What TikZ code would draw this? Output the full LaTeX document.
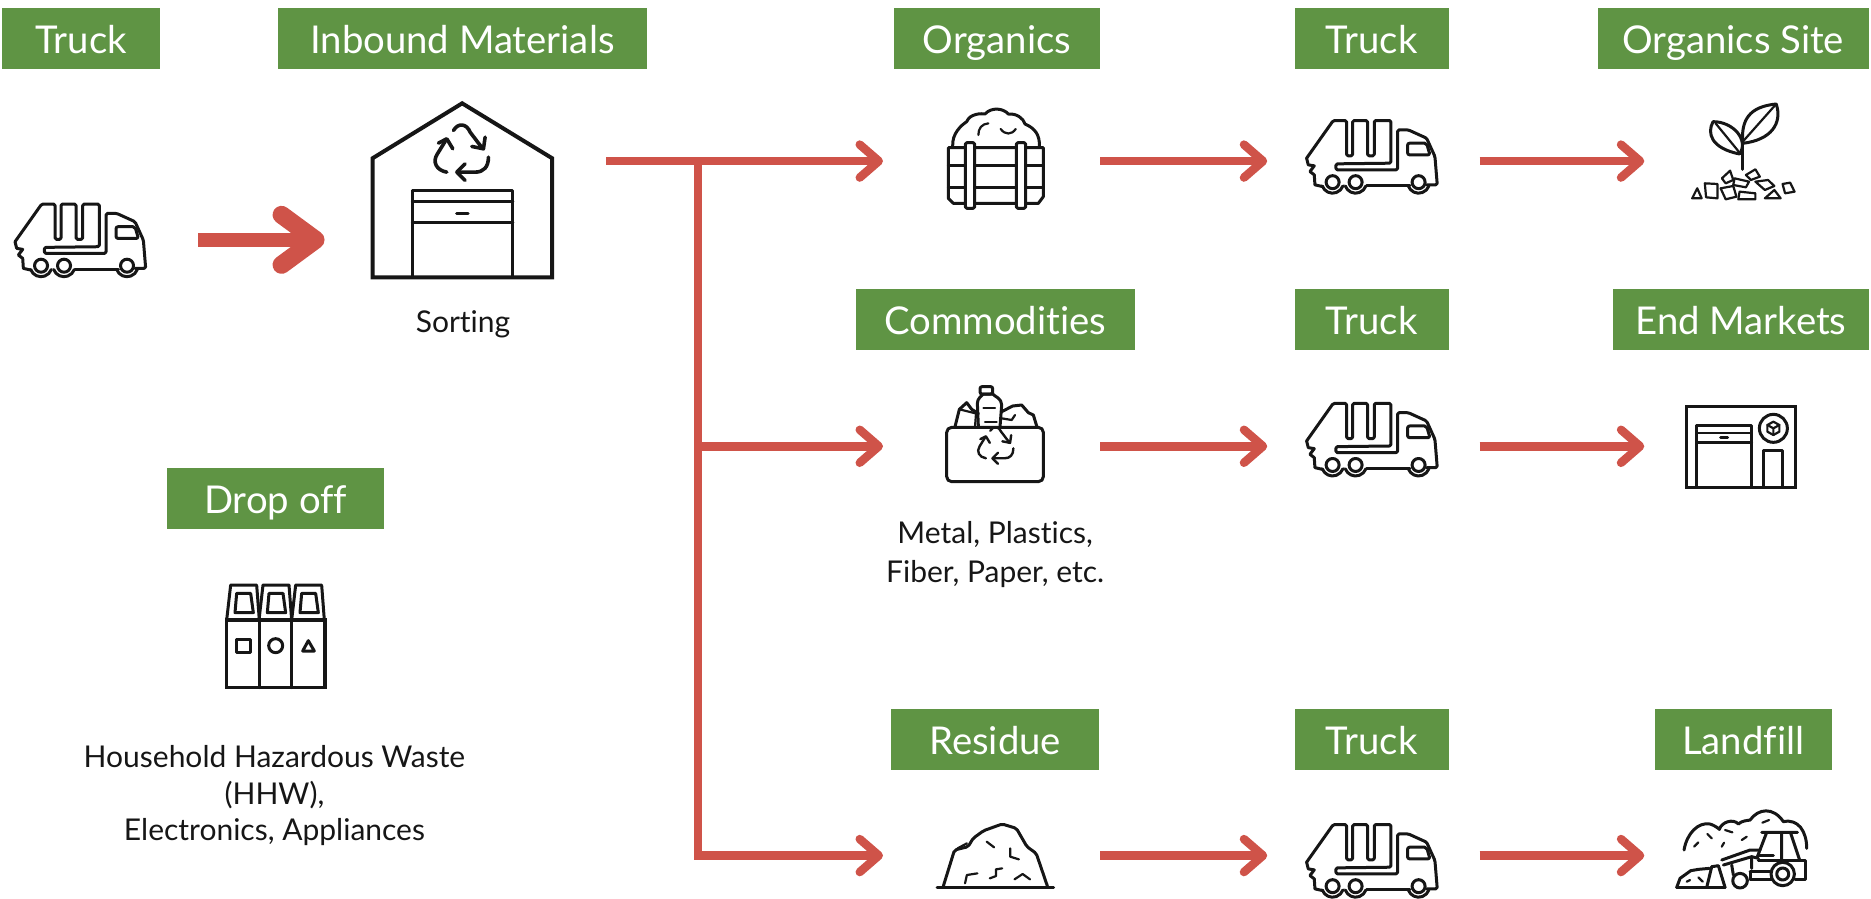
\documentclass[tikz,border=0pt]{standalone}
\usepackage{fontspec}
\setmainfont{Lato}[Ligatures=CommonOff]
\usetikzlibrary{arrows.meta}
\definecolor{boxgreen}{HTML}{5F9444}
\definecolor{flowred}{HTML}{CF5349}
\definecolor{ink}{HTML}{161616}
\tikzset{
  gbox/.style={fill=boxgreen,text=white,inner sep=0pt,minimum height=61pt,text height=28.6pt,text depth=0pt,minimum width=#1*1.1932pt,font=\fontsize{38.3}{40}\selectfont},
  hit/.style={inner sep=0pt,outer sep=0pt,minimum height=10pt,minimum width=#1*1.1932pt},
  caption/.style={inner sep=0pt,align=center,text=ink,font=\fontsize{30}{#1}\selectfont},
  flow/.style={draw=flowred,line width=8.5pt,-{Straight Barb[length=19pt,width=33pt,line width=8.5pt,round]}},
  bigflow/.style={draw=flowred,line width=14.6pt,-{Straight Barb[length=34pt,width=50pt,line width=18pt,round]}},
  zs/.style n args={4}{shift={(#1/1.1932,#2/1.1932)},x=#3pt,y=-#4pt},
  ic/.style={draw=ink,line width=3pt,line join=round,line cap=round},
  ict/.style={draw=ink,line width=2.2pt,line join=round,line cap=round},
  recyc/.pic={
    \begin{scope}[x=.3333pt,y=-.3333pt,shift={(-125,-95)},draw=ink,line width=#1,line cap=round,line join=round]
      \draw (100,30) .. controls (115,5) and (140,10) .. (150,35) -- (188,85);
      \draw (155,78) -- (190,85) -- (195,50);
      \draw (205,110) .. controls (205,140) and (190,155) .. (165,155) -- (110,155);
      \draw (135,130) -- (110,155) -- (135,180);
      \draw (80,155) .. controls (50,150) and (35,125) .. (52,100) -- (78,58);
      \draw (55,68) -- (80,55) -- (98,85);
    \end{scope}
  },
  truck/.pic={
    \begin{scope}[x=.3333pt,y=-.3333pt,shift={(-45,-42)}]
      \draw[ic,rounded corners=1.5pt] (45,155) -- (125,42) -- (165,42) -- (165,148) -- (183,148) -- (183,42) -- (228,42) -- (228,148) -- (248,148) -- (248,42) -- (298,42) -- (298,170) -- (133,172) -- (133,190) -- (318,190) -- (318,70) -- (350,70) -- (405,95) -- (430,150) -- (437,235) -- (405,235);
      \draw[ic] (225,237) -- (355,237);
      \draw[ic] (45,155) -- (50,175) -- (68,178) -- (55,195) -- (68,205) -- (70,235) -- (92,240);
      \draw[ic,rounded corners=2pt] (348,110) -- (405,110) -- (415,145) -- (348,145) -- cycle;
      \foreach \c in {123,192,381}{
        \draw[ic] (\c,227) circle[radius=6.5pt];
        \draw[ic] (\c,227) ++(200:11pt) arc[start angle=200,end angle=340,radius=11pt];
      }
    \end{scope}
  }
}
\begin{document}
\begin{tikzpicture}[x=1.1932pt,y=-1.1932pt]
\useasboundingbox (0,0) rectangle (1568,753.4);

% label boxes
\node[gbox=132] (lTruckA) at (68,32.5) {Truck};
\node[gbox=309] (lInbound) at (387.5,32.5) {Inbound Materials};
\node[gbox=173] (lOrganics) at (835.5,32.5) {Organics};
\node[gbox=129] (lTruckB) at (1149.5,32.5) {Truck};
\node[gbox=227] (lSite) at (1452.5,32.5) {Organics Site};
\node[gbox=234] (lComm) at (834,268) {Commodities};
\node[gbox=129] (lTruckC) at (1149.5,268) {Truck};
\node[gbox=214] (lEnd) at (1459,268) {End Markets};
\node[gbox=182] (lDrop) at (231,418) {Drop off};
\node[gbox=174] (lRes) at (834,620) {Residue};
\node[gbox=129] (lTruckD) at (1149.5,620) {Truck};
\node[gbox=148] (lLand) at (1461,620) {Landfill};

% captions
\node[caption=30] (cSort) at (388,272) {Sorting};
\node[caption=39] (cMetal) at (834,465) {Metal, Plastics,\\Fiber, Paper, etc.};
\node[caption=36.4] (cHaz) at (230,667) {Household Hazardous Waste\\(HHW),\\Electronics, Appliances};

% connection anchors around the icons
\node[hit=196] (aTruckA) at (68,201) {};
\node[hit=236] (aSort) at (390,201) {};
\node[hit=236] (aSortOut) at (390,135) {};
\node[hit=182] (aOrg) at (831,135) {};
\node[hit=178] (aTruckB) at (1151,135) {};
\node[hit=164] (aPlant) at (1460,135) {};
\node[hit=182] (aComm) at (831,374) {};
\node[hit=178] (aTruckC) at (1151,374) {};
\node[hit=164] (aMarket) at (1460,374) {};
\node[hit=182] (aRes) at (831,717) {};
\node[hit=178] (aTruckD) at (1151,717) {};
\node[hit=164] (aFill) at (1460,717) {};
\coordinate (jTop) at (585,135);

% connectors
\draw[bigflow] (aTruckA.east) -- (aSort.west);
\draw[flow] (aSortOut.east) -- (aOrg.west);
\draw[flow] (jTop) |- (aRes.west);
\draw[flow] (aComm.west -| jTop) -- (aComm.west);
\draw[flow] (aOrg.east) -- (aTruckB.west);
\draw[flow] (aTruckB.east) -- (aPlant.west);
\draw[flow] (aComm.east) -- (aTruckC.west);
\draw[flow] (aTruckC.east) -- (aMarket.west);
\draw[flow] (aRes.east) -- (aTruckD.west);
\draw[flow] (aTruckD.east) -- (aFill.west);

% trucks
\pic at (12.6,171) {truck};
\pic at (1095,101) {truck};
\pic at (1095,338) {truck};
\pic at (1095,691) {truck};

% warehouse
\begin{scope}[zs={0}{0}{.4209}{.3333}]
  \draw[ic,line width=4pt,line join=miter] (885,475) -- (1098,310) -- (1312,475) -- (1312,832) -- (885,832) -- cycle;
  \draw[ic,line width=3.2pt] (980,832) -- (980,572) -- (1218,572) -- (1218,832);
  \draw[ic,line width=3.2pt] (980,605) -- (1218,605) (980,668) -- (1218,668);
  \draw[ic] (1085,640) -- (1112,640);
\end{scope}
\pic at (387,127.5) {recyc=3.6pt};

% organics crate
\begin{scope}[zs={920}{100}{.3333}{.3333}]
  \draw[ic] (98,140) .. controls (95,100) and (125,75) .. (140,65) .. controls (150,40) and (185,40) .. (195,42) .. controls (215,20) and (250,25) .. (265,42) .. controls (290,40) and (310,55) .. (315,72) .. controls (345,85) and (360,105) .. (358,140);
  \draw[ict] (205,70) .. controls (185,72) and (175,85) .. (175,105);
  \draw[ict] (242,87) .. controls (255,105) and (275,105) .. (287,87);
  \draw[ic] (85,143) -- (370,143) -- (370,290) -- (355,310) -- (100,310) -- (85,295) -- cycle;
  \draw[ic] (85,198) -- (370,198) (85,262) -- (370,262);
  \foreach \c in {150,303}{
    \draw[ic,fill=white,rounded corners=1.5pt] (\c-14,128) rectangle (\c+14,325);
  }
\end{scope}

% plant with soil
\begin{scope}[zs={880}{80}{.632}{.3333}]
  \draw[ic] (1365,190) .. controls (1362,120) and (1375,80) .. (1418,72) .. controls (1428,130) and (1410,180) .. (1365,190);
  \draw[ict] (1418,72) -- (1365,185);
  \draw[ic] (1360,222) .. controls (1315,205) and (1308,160) .. (1318,125) .. controls (1350,125) and (1375,180) .. (1360,222);
  \draw[ict] (1322,130) -- (1360,218);
  \draw[ic] (1365,190) -- (1365,268);
  \foreach \p in {
    {(1285,355)--(1293,325)--(1300,355)},
    {(1305,310)--(1325,312)--(1325,355)--(1307,352)},
    {(1332,295)--(1345,272)--(1350,300)--(1338,310)},
    {(1370,285)--(1385,268)--(1392,290)--(1378,300)},
    {(1352,295)--(1375,305)--(1370,322)--(1350,315)},
    {(1385,305)--(1405,300)--(1415,318)--(1400,330)},
    {(1330,325)--(1350,318)--(1355,350)--(1338,358)},
    {(1360,335)--(1385,340)--(1385,358)--(1358,358)},
    {(1400,355)--(1415,330)--(1425,355)},
    {(1428,312)--(1440,308)--(1447,335)--(1432,340)}
  }{
    \draw[ict] \p -- cycle;
  }
\end{scope}

% commodities bin
\begin{scope}[zs={900}{370}{.3333}{.3333}]
  \draw[ic,fill=white] (235,170) -- (232,100) .. controls (232,85) and (245,78) .. (250,72) -- (278,72) .. controls (285,80) and (305,85) .. (305,105) -- (300,170);
  \draw[ic,rounded corners=2pt] (240,50) rectangle (278,72);
  \draw[ict] (250,115) -- (285,115) (255,155) -- (290,155);
  \draw[ic] (165,170) -- (178,118) -- (200,98) -- (215,118) -- (235,130);
  \draw[ict] (178,118) -- (235,132) (225,170) -- (228,130);
  \draw[ic] (305,125) -- (338,108) -- (365,105) -- (385,128) -- (400,135) -- (410,168);
  \draw[ict] (305,145) -- (335,150) -- (345,135);
  \draw[ic,rounded corners=5pt] (140,172) -- (430,172) -- (430,335) -- (140,335) -- cycle;
\end{scope}
\pic[scale=.66] at (834.5,373) {recyc=2.4pt};

% end-market building
\begin{scope}[zs={1660}{390}{.3333}{.3333}]
  \draw[ic,line join=miter] (78,50) rectangle (405,292);
  \draw[ic] (110,292) -- (110,105) -- (275,105) -- (275,292);
  \draw[ict] (110,128) -- (275,128);
  \draw[ic] (110,158) -- (275,158);
  \draw[ic] (182,142) -- (203,142);
  \draw[ic] (340,115) circle[radius=14pt];
  \draw[ict] (322,105) -- (340,95) -- (358,105) -- (358,125) -- (340,135) -- (322,125) -- cycle;
  \draw[ict] (322,105) -- (340,115) -- (358,105) (340,115) -- (340,135);
  \draw[ic] (310,292) -- (310,182) -- (368,182) -- (368,292);
\end{scope}

% drop-off bins
\begin{scope}[zs={200}{570}{.3333}{.3333}]
  \draw[ic,line width=3.4pt,line join=miter] (80,150) rectangle (375,352);
  \draw[ic,line width=3.4pt] (178,150) -- (178,352) (275,150) -- (275,352);
  \foreach \d in {0,97,195}{
    \draw[ic,shift={(\d,0)}] (80,150) -- (92,45) -- (170,45) -- (178,150);
    \draw[ic,shift={(\d,0)}] (105,128) -- (110,70) -- (152,70) -- (160,128) -- cycle;
  }
  \draw[ic] (110,208) rectangle (150,247);
  \draw[ic] (227,227) circle[radius=7pt];
  \draw[ic] (308,243) -- (325,212) -- (343,243) -- cycle;
\end{scope}

% residue pile
\begin{scope}[zs={900}{800}{.619}{.3333}]
  \draw[ic] (60,262) -- (248,262);
  \draw[ic,rounded corners=2pt] (70,258) -- (88,150) -- (110,140) -- (118,115) -- (135,92) -- (165,72) -- (188,85) -- (205,140) -- (220,160) -- (238,258);
  \draw[ict] (140,125) -- (152,142);
  \draw[ict] (178,145) -- (178,170) -- (192,178);
  \draw[ict] (93,145) -- (108,130);
  \draw[ict] (105,250) -- (108,225) -- (125,220);
  \draw[ict] (145,235) -- (155,228) -- (155,208) -- (165,205);
  \draw[ict] (185,238) -- (198,222) -- (210,238);
\end{scope}

% landfill and loader
\begin{scope}[zs={1670}{800}{.3333}{.3333}]
  \draw[ic] (42,150) .. controls (50,100) and (85,65) .. (120,72) .. controls (130,75) and (142,82) .. (148,88) .. controls (155,65) and (190,55) .. (205,72) .. controls (215,62) and (230,62) .. (240,60) .. controls (265,25) and (310,20) .. (340,65) .. controls (385,55) and (410,95) .. (410,145);
  \draw[ict] (72,140) -- (85,127) (112,102) -- (125,115) (165,90) -- (187,97) (155,140) -- (162,128) (215,120) -- (230,110) (277,68) -- (297,60);
  \draw[ic] (275,97) -- (382,97) (290,97) -- (262,170) (335,97) -- (335,180) (362,100) -- (388,178);
  \draw[ic] (265,165) -- (310,165);
  \draw[ic] (265,180) -- (405,180) -- (405,238) -- (375,238);
  \draw[ic] (240,215) -- (300,215) (240,238) -- (305,238) (240,215) -- (240,238);
  \draw[ic] (155,180) -- (240,150) -- (270,150);
  \draw[ic] (160,195) -- (245,170) -- (265,175);
  \draw[ic] (245,170) -- (245,205) (185,195) -- (190,225);
  \draw[ic] (110,262) -- (125,200) -- (145,197) -- (165,262);
  \draw[ic] (20,262) -- (165,262);
  \draw[ic] (20,262) -- (30,235) -- (62,212) -- (85,208) -- (118,205);
  \draw[ict] (50,245) -- (60,240) (85,232) -- (98,245);
  \draw[ic,fill=white] (338,222) circle[radius=11.7pt];
  \draw[ic] (338,222) circle[radius=6pt];
  \draw[ic,fill=white] (210,242) circle[radius=7.3pt];
\end{scope}
\end{tikzpicture}
\end{document}
